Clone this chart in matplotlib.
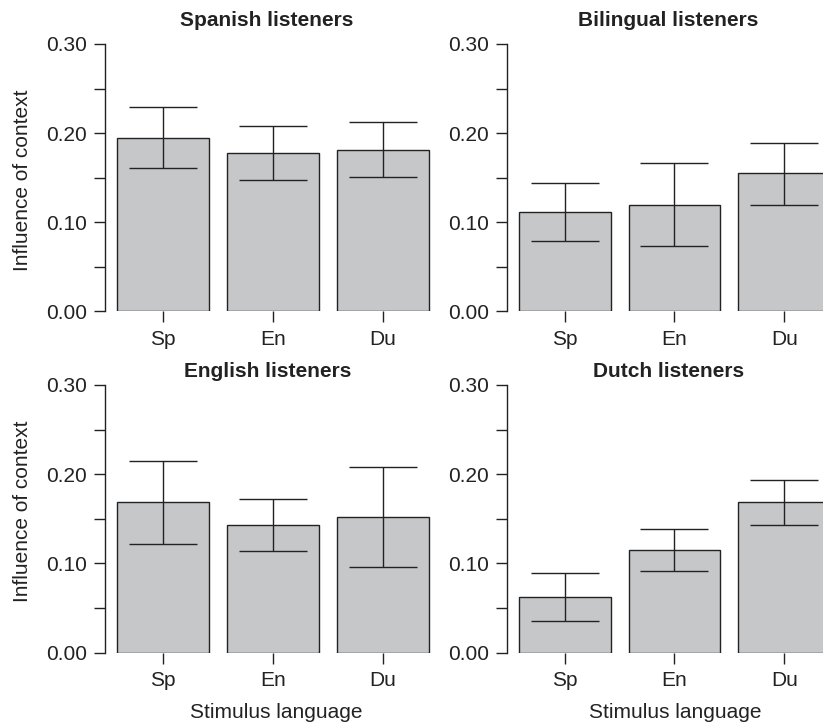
import matplotlib
matplotlib.use("Agg")
import matplotlib.pyplot as plt
import numpy as np

plt.rcParams['font.family'] = ['Liberation Sans', 'DejaVu Sans']

categories = ["Sp", "En", "Du"]
titles = ["Spanish listeners", "Bilingual listeners", "English listeners", "Dutch listeners"]

spanish_mean = [0.195, 0.178, 0.181]
spanish_lo = [0.161, 0.147, 0.151]
spanish_hi = [0.229, 0.208, 0.212]

bilingual_mean = [0.112, 0.119, 0.155]
bilingual_lo = [0.079, 0.073, 0.119]
bilingual_hi = [0.144, 0.166, 0.189]

english_mean = [0.169, 0.143, 0.152]
english_lo = [0.122, 0.114, 0.096]
english_hi = [0.215, 0.172, 0.208]

dutch_mean = [0.062, 0.115, 0.169]
dutch_lo = [0.035, 0.091, 0.143]
dutch_hi = [0.089, 0.139, 0.194]

yticks_major = [0.0, 0.1, 0.2, 0.3]
yticks_minor = [0.05, 0.15, 0.25]
ytick_labels = ["0.00", "0.10", "0.20", "0.30"]

means = [spanish_mean, bilingual_mean, english_mean, dutch_mean]
los = [spanish_lo, bilingual_lo, english_lo, dutch_lo]
his = [spanish_hi, bilingual_hi, english_hi, dutch_hi]

W, H = 823, 722
fig = plt.figure(figsize=(W / 100, H / 100), dpi=100)

INK = '#222222'
FILL = '#c6c7c9'
FS = 15

spacing = 109.8
xmin, xmax = -0.528, 2.45
ax_w = (xmax - xmin) * spacing

lefts = [105.3, 506.7]
rows = [(44.0, 311.5), (385.0, 652.7)]

title_pos = [(267, 26), (668, 26), (267.5, 377), (669, 377)]

for i in range(4):
    r, c = divmod(i, 2)
    top, bot = rows[r]
    left = lefts[c]
    ax = fig.add_axes([left / W, 1 - bot / H, ax_w / W, (bot - top) / H])
    x = np.arange(len(categories))
    m = np.array(means[i])
    lo = np.array(los[i])
    hi = np.array(his[i])
    ax.bar(x, m, width=0.836, color=FILL, edgecolor=INK, linewidth=1.0, zorder=2)
    ax.errorbar(x, m, yerr=[m - lo, hi - m], fmt='none', ecolor=INK, elinewidth=1.0,
                capsize=24.5, capthick=1.0, zorder=3)
    ax.set_xlim(xmin, xmax)
    ax.set_ylim(0, 0.3)
    for s in ['top', 'right', 'bottom']:
        ax.spines[s].set_visible(False)
    ax.spines['left'].set_color(INK)
    ax.spines['left'].set_linewidth(1.0)
    ax.set_yticks(yticks_major)
    ax.set_yticklabels(ytick_labels)
    ax.set_yticks(yticks_minor, minor=True)
    ax.set_xticks(x)
    ax.set_xticklabels(categories)
    ax.tick_params(axis='both', which='both', length=8, width=1.0, color=INK,
                   labelcolor=INK, labelsize=FS, pad=5)
    ax.patch.set_visible(False)
    tx, ty = title_pos[i]
    fig.text(tx / W, 1 - ty / H, titles[i], ha='center', va='baseline',
             fontsize=FS, fontweight='bold', color=INK)

fig.text(23 / W, 1 - 180.5 / H, "Influence of context", rotation=90, ha='center', va='center',
         fontsize=FS, color=INK)
fig.text(23 / W, 1 - 511.7 / H, "Influence of context", rotation=90, ha='center', va='center',
         fontsize=FS, color=INK)
fig.text(276.7 / W, 1 - 717.5 / H, "Stimulus language", ha='center', va='baseline',
         fontsize=FS, color=INK)
fig.text(675 / W, 1 - 717.5 / H, "Stimulus language", ha='center', va='baseline',
         fontsize=FS, color=INK)

fig.savefig("out.png", dpi=100)
